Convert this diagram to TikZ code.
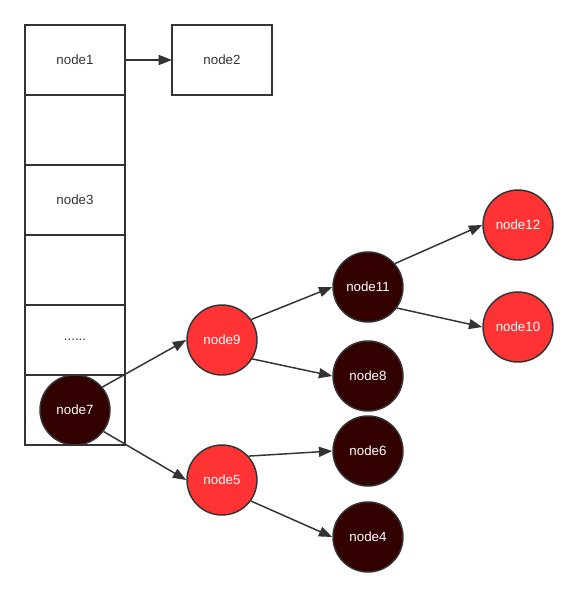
\documentclass[tikz,border=0pt]{standalone}
\usepackage{fontspec}
\setmainfont{Liberation Sans}
\usetikzlibrary{arrows.meta}
\definecolor{linegray}{HTML}{333333}
\definecolor{darknode}{HTML}{330000}
\definecolor{rednode}{HTML}{FF3333}
\begin{document}
\begin{tikzpicture}[
    x=0.75pt, y=-0.75pt,
    cell/.style={rectangle, draw=linegray, line width=1.5pt, minimum width=75pt, minimum height=52.5pt, inner sep=0pt, outer sep=0pt, text=linegray, font=\fontsize{10pt}{12pt}\selectfont},
    ball/.style={circle, draw=linegray, line width=1.1pt, minimum size=52.5pt, inner sep=0pt, text=white, font=\fontsize{10pt}{12pt}\selectfont},
    dark/.style={ball, fill=darknode},
    hot/.style={ball, fill=rednode},
    arrow/.style={-{Triangle[length=10pt, width=7.5pt]}, line width=1.1pt, draw=linegray}
]
    \useasboundingbox (0,0) rectangle (579,597);

    % Tabelle
    \node[cell] (cell1) at (75,60) {node1};
    \node[cell] (cell2) at (75,130) {};
    \node[cell] (cell3) at (75,200) {node3};
    \node[cell] (cell4) at (75,270) {};
    \node[cell] (cell5) at (75,340) {......};
    \node[cell] (cell6) at (75,410) {};
    \node[cell] (node2) at (222,60) {node2};

    \draw[arrow] (cell1.east) -- (node2.west);

    % Baum
    \node[dark] (node7) at (75,410) {node7};
    \node[hot] (node9) at (222,340) {node9};
    \node[hot] (node5) at (222,480) {node5};
    \node[dark] (node11) at (368,287) {node11};
    \node[dark] (node8) at (368,376) {node8};
    \node[dark] (node6) at (368,451) {node6};
    \node[dark] (node4) at (368,537) {node4};
    \node[hot] (node12) at (518,225) {node12};
    \node[hot] (node10) at (518,327) {node10};

    \draw[arrow] (node7.40) -- (node9.west);
    \draw[arrow] (node7.-37) -- (node5.west);
    \draw[arrow] (node9.35) -- (node11.west);
    \draw[arrow] (node9.-32) -- (node8.west);
    \draw[arrow] (node5.42) -- (node6.west);
    \draw[arrow] (node5.-36) -- (node4.west);
    \draw[arrow] (node11.41) -- (node12.west);
    \draw[arrow] (node11.-36) -- (node10.west);
\end{tikzpicture}
\end{document}
